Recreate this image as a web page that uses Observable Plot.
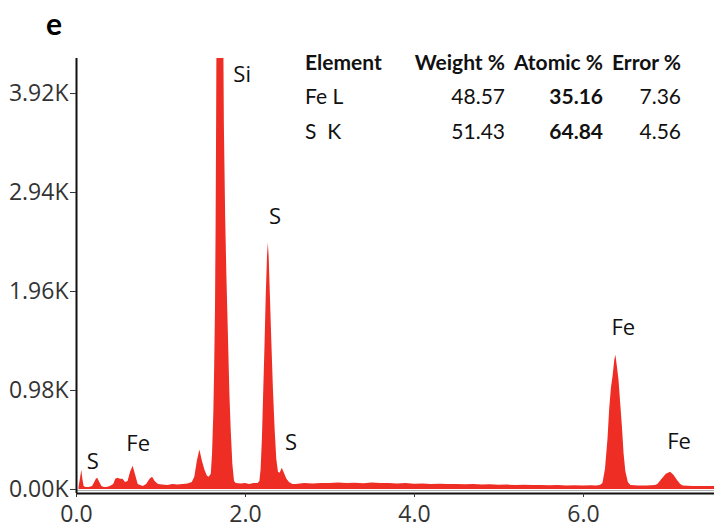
<!DOCTYPE html>
<html>
<head>
<meta charset="utf-8">
<script src="https://cdn.jsdelivr.net/npm/d3@7"></script>
<script src="https://cdn.jsdelivr.net/npm/@observablehq/plot@0.6"></script>
<style>
  html, body { margin: 0; padding: 0; background: #fff; }
  #wrap { position: relative; width: 714px; height: 531px; overflow: hidden; }
  #panel { position: absolute; left: 46px; top: 5px; font: bold 30px Lato, "Open Sans", sans-serif; color: #000; }
  #tbl { position: absolute; left: 305px; top: 44px; border-collapse: collapse; font-family: Lato, "Open Sans", sans-serif; font-size: 21px; color: #111; }
  #tbl td, #tbl th { padding: 0; height: 34.5px; white-space: pre; }
  #tbl th { font-weight: bold; }
  #tbl .c0 { text-align: left; width: 100px; }
  #tbl .c1 { text-align: right; width: 100px; }
  #tbl .c2 { text-align: right; width: 98px; }
  #tbl .c3 { text-align: right; width: 78px; }
  #tbl .b { font-weight: bold; }
</style>
</head>
<body>
<div id="wrap">
  <div id="chart"></div>
  <div id="panel">e</div>
  <table id="tbl"></table>
</div>
<script>
// Spectrum: energy (keV) and counts (K)
const energy = [
  0.03, 0.05, 0.063, 0.075, 0.09, 0.11, 0.15, 0.19, 0.21, 0.235, 0.25, 0.27, 0.30, 0.33, 0.36,
  0.40, 0.44, 0.465, 0.49, 0.52, 0.55, 0.58, 0.61, 0.64, 0.67, 0.70, 0.73, 0.76, 0.79, 0.83,
  0.87, 0.90, 0.93, 0.97, 1.02, 1.08, 1.14, 1.20, 1.26, 1.32, 1.37, 1.40, 1.43, 1.46, 1.49,
  1.52, 1.55, 1.57,
  1.595, 1.61, 1.625, 1.635, 1.645, 1.652, 1.658, 1.663, 1.70, 1.742, 1.75, 1.765, 1.78, 1.80,
  1.815, 1.83, 1.85, 1.87, 1.89, 1.95, 2.00, 2.05, 2.10, 2.15,
  2.17, 2.185, 2.20, 2.215, 2.23, 2.245, 2.26, 2.27, 2.28, 2.295, 2.31, 2.33, 2.35, 2.37, 2.39,
  2.41, 2.435, 2.46, 2.49, 2.52, 2.56,
  2.6, 2.7, 2.8, 2.9, 3.0, 3.1, 3.2, 3.3, 3.4, 3.5, 3.6, 3.7, 3.8, 3.9, 4.0, 4.1, 4.2, 4.3,
  4.4, 4.5, 4.6, 4.7, 4.8, 4.9, 5.0, 5.1, 5.2, 5.3, 5.4, 5.5, 5.6, 5.7, 5.8, 5.9, 6.0, 6.1,
  6.15, 6.20, 6.23, 6.26, 6.29, 6.31, 6.33, 6.35, 6.37, 6.383, 6.40, 6.42, 6.44, 6.46, 6.48,
  6.50, 6.53, 6.56, 6.65, 6.75, 6.85, 6.88, 6.93, 6.98, 7.03, 7.07, 7.11, 7.15, 7.18, 7.3,
  7.45, 7.55
];
const counts = [
  0.02, 0.12, 0.19, 0.10, 0.03, 0.02, 0.02, 0.03, 0.06, 0.10, 0.11, 0.08, 0.03, 0.02, 0.02,
  0.03, 0.05, 0.10, 0.11, 0.10, 0.10, 0.07, 0.08, 0.17, 0.23, 0.14, 0.05, 0.04, 0.03, 0.05,
  0.10, 0.12, 0.08, 0.05, 0.045, 0.04, 0.05, 0.045, 0.05, 0.055, 0.07, 0.12, 0.28, 0.39, 0.28,
  0.19, 0.13, 0.12,
  0.15, 0.35, 0.75, 1.2, 1.8, 2.6, 3.6, 4.6, 8.0, 4.6, 3.6, 2.7, 2.1, 1.45,
  0.95, 0.6, 0.25, 0.08, 0.06, 0.055, 0.06, 0.05, 0.06, 0.06,
  0.08, 0.2, 0.5, 0.95, 1.4, 1.9, 2.3, 2.44, 2.3, 1.9, 1.5, 1.0, 0.6, 0.3, 0.17,
  0.16, 0.21, 0.16, 0.10, 0.07, 0.05,
  0.05, 0.06, 0.055, 0.06, 0.058, 0.065, 0.06, 0.062, 0.057, 0.063, 0.058, 0.06, 0.055, 0.058,
  0.052, 0.055, 0.05, 0.052, 0.048, 0.05, 0.046, 0.048, 0.044, 0.046, 0.042, 0.043, 0.04, 0.042,
  0.038, 0.04, 0.037, 0.038, 0.035, 0.037, 0.035, 0.036,
  0.035, 0.04, 0.06, 0.2, 0.5, 0.8, 1.0, 1.12, 1.28, 1.33, 1.22, 1.08, 0.85, 0.62, 0.35,
  0.18, 0.07, 0.04, 0.035, 0.035, 0.04, 0.05, 0.10, 0.15, 0.17, 0.14, 0.09, 0.05, 0.035, 0.03,
  0.03, 0.03
];

// Peak labels
const peakNames = ["S", "Fe", "Si", "S", "S", "Fe", "Fe"];
const peakEnergy = [0.194, 0.73, 1.96, 2.35, 2.54, 6.47, 7.13];
const peakLabelCounts = [0.277, 0.455, 4.10, 2.70, 0.465, 1.60, 0.47];

// Axis ticks
const xTicks = [0, 2, 4, 6];
const yTicks = [0, 0.98, 1.96, 2.94, 3.92];

// Quantification table
const tableHeader = ["Element", "Weight %", "Atomic %", "Error %"];
const elements = ["Fe L", "S  K"];
const weightPct = ["48.57", "51.43"];
const atomicPct = ["35.16", "64.84"];
const errorPct = ["7.36", "4.56"];

const spectrum = energy.map((e, i) => ({e, c: counts[i]}));
const peaks = peakNames.map((n, i) => ({n, e: peakEnergy[i], c: peakLabelCounts[i]}));

const yMin = -0.04, yMax = 4.267;
const red = "#ee2d24";

const chart = Plot.plot({
  width: 714,
  height: 531,
  marginLeft: 76,
  marginRight: 0,
  marginTop: 58,
  marginBottom: 38,
  style: {fontFamily: "'Open Sans', sans-serif", fontSize: "23px", color: "#333", background: "transparent"},
  x: {domain: [0, 7.55]},
  y: {domain: [yMin, yMax]},
  marks: [
    Plot.areaY(spectrum, {x: "e", y: "c", fill: red, clip: true}),
    Plot.ruleY([yMin + 0.03], {stroke: "#aaa", strokeWidth: 1}),
    Plot.ruleY([yMin], {stroke: "#111", strokeWidth: 2}),
    Plot.ruleX([0], {stroke: "#111", strokeWidth: 2}),
    Plot.axisY({ticks: yTicks, tickFormat: d => d.toFixed(2) + "K", tickSize: 6, tickPadding: 2, label: null, fontSize: 23, stroke: "#333"}),
    Plot.axisX({ticks: xTicks, tickFormat: d => d.toFixed(1), tickSize: 4, tickPadding: 8, label: null, fontSize: 23, stroke: "#333"}),
    Plot.text(peaks, {x: "e", y: "c", text: "n", fontSize: 22, fill: "#111", fontFamily: "'Open Sans', sans-serif"})
  ]
});
document.getElementById("chart").appendChild(chart);

// Table
const tbl = document.getElementById("tbl");
const hr = document.createElement("tr");
tableHeader.forEach((h, i) => {
  const th = document.createElement("th");
  th.className = "c" + i;
  th.textContent = h;
  hr.appendChild(th);
});
tbl.appendChild(hr);
elements.forEach((el, r) => {
  const tr = document.createElement("tr");
  [el, weightPct[r], atomicPct[r], errorPct[r]].forEach((v, i) => {
    const td = document.createElement("td");
    td.className = "c" + i + (i === 2 ? " b" : "");
    td.textContent = v;
    tr.appendChild(td);
  });
  tbl.appendChild(tr);
});
</script>
</body>
</html>
